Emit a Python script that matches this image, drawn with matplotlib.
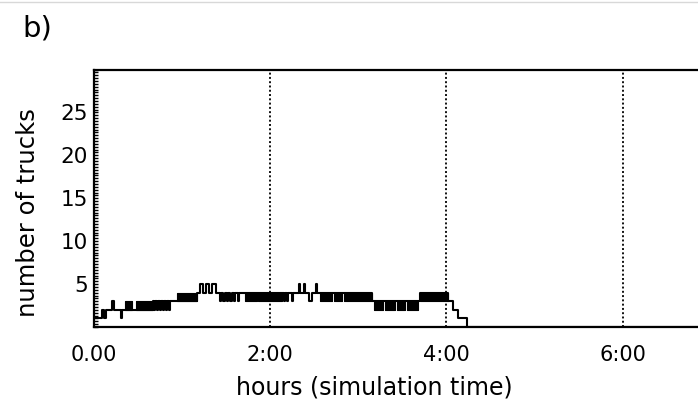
import matplotlib
matplotlib.use("Agg")
import matplotlib.pyplot as plt
from matplotlib.ticker import MultipleLocator

plt.rcParams['font.family'] = ['DejaVu Sans']

# main step series (hours, number of trucks)
step_t = [0.000, 0.091, 0.119, 0.142, 0.210, 0.227, 0.306, 0.323, 0.674,
          0.686, 0.700, 0.720, 0.734, 0.754, 0.768, 0.788, 0.802, 0.822, 0.836, 0.856, 0.870,
          0.946, 1.173, 1.207, 1.241, 1.275, 1.309, 1.343, 1.388, 1.410,
          1.433, 1.447, 1.473, 1.487, 1.513, 1.527, 1.552, 1.566, 1.592, 1.606, 1.632, 1.646,
          1.717, 2.136, 2.159, 2.173, 2.193, 2.207, 2.249, 2.263,
          2.329, 2.343, 2.385, 2.399, 2.442, 2.476, 2.516, 2.530, 2.567,
          3.156, 3.700, 4.017, 4.074, 4.130, 4.229, 6.900]
step_v = [1, 2, 1, 2, 3, 2, 1, 2, 3,
          2, 3, 2, 3, 2, 3, 2, 3, 2, 3, 2, 3,
          3, 4, 5, 4, 5, 4, 5, 4, 4,
          3, 4, 3, 4, 3, 4, 3, 4, 3, 4, 3, 4,
          4, 4, 3, 4, 3, 4, 3, 4,
          5, 4, 5, 4, 3, 4, 5, 4, 4,
          3, 4, 3, 2, 1, 0, 0]

# rapid-oscillation bands (start h, end h, low, high)
band_start = [0.357, 0.482, 0.946, 1.717, 1.864, 2.567, 2.725, 2.839, 3.178, 3.303, 3.439, 3.552, 3.700]
band_end   = [0.436, 0.674, 1.173, 1.853, 2.136, 2.703, 2.816, 3.156, 3.280, 3.416, 3.530, 3.677, 4.017]
band_low   = [2, 2, 3, 3, 3, 3, 3, 3, 2, 2, 2, 2, 3]
band_high  = [3, 3, 4, 4, 4, 4, 4, 4, 3, 3, 3, 3, 4]

x_ticks = [0, 2, 4, 6]
x_labels = ['0.00', '2:00', '4:00', '6:00']
y_ticks = [5, 10, 15, 20, 25]

fig = plt.figure(figsize=(6.98, 4.09), dpi=100)
ax = fig.add_axes([93.5 / 698, 82 / 409, 1 - 93.5 / 698, (327 - 69.5) / 409])

for s, e, lo, hi in zip(band_start, band_end, band_low, band_high):
    ax.fill_between([s, e], [lo, lo], [hi, hi], color='black', linewidth=0.8, edgecolor='black')
ax.step(step_t, step_v, where='post', color='black', linewidth=1.5)

for xv in x_ticks[1:]:
    ax.axvline(xv, color='#111111', linestyle=(0, (1, 1.2)), linewidth=1.4, zorder=0)

ax.set_xlim(0, 6.85)
ax.set_ylim(0, 30)
ax.set_xticks(x_ticks)
ax.set_xticklabels(x_labels)
ax.set_yticks(y_ticks)
ax.yaxis.set_minor_locator(MultipleLocator(1 / 3))
ax.tick_params(axis='x', length=0, pad=13, labelsize=15)
ax.tick_params(axis='y', which='major', direction='in', length=3, width=1, pad=4, labelsize=15.5)
ax.tick_params(axis='y', which='minor', direction='in', length=3, width=1)
ax.spines['right'].set_visible(False)
for sp in ['left', 'bottom', 'top']:
    ax.spines[sp].set_linewidth(1.6)

ax.set_xlabel('hours (simulation time)', fontsize=17)
ax.set_ylabel('number of trucks', fontsize=17.5)
ax.xaxis.set_label_coords((374 - 93.5) / 604.5, (327 - 376) / 257.5)
ax.yaxis.set_label_coords((40 - 93.5) / 604.5, (327 - 213) / 257.5)

fig.text(22 / 698, 1 - 29 / 409, 'b)', fontsize=21, va='center', ha='left')
fig.add_artist(plt.Line2D([0, 1], [1 - 2 / 409, 1 - 2 / 409], color='#d8d8d8', linewidth=1))

fig.savefig('out.png', dpi=100)
